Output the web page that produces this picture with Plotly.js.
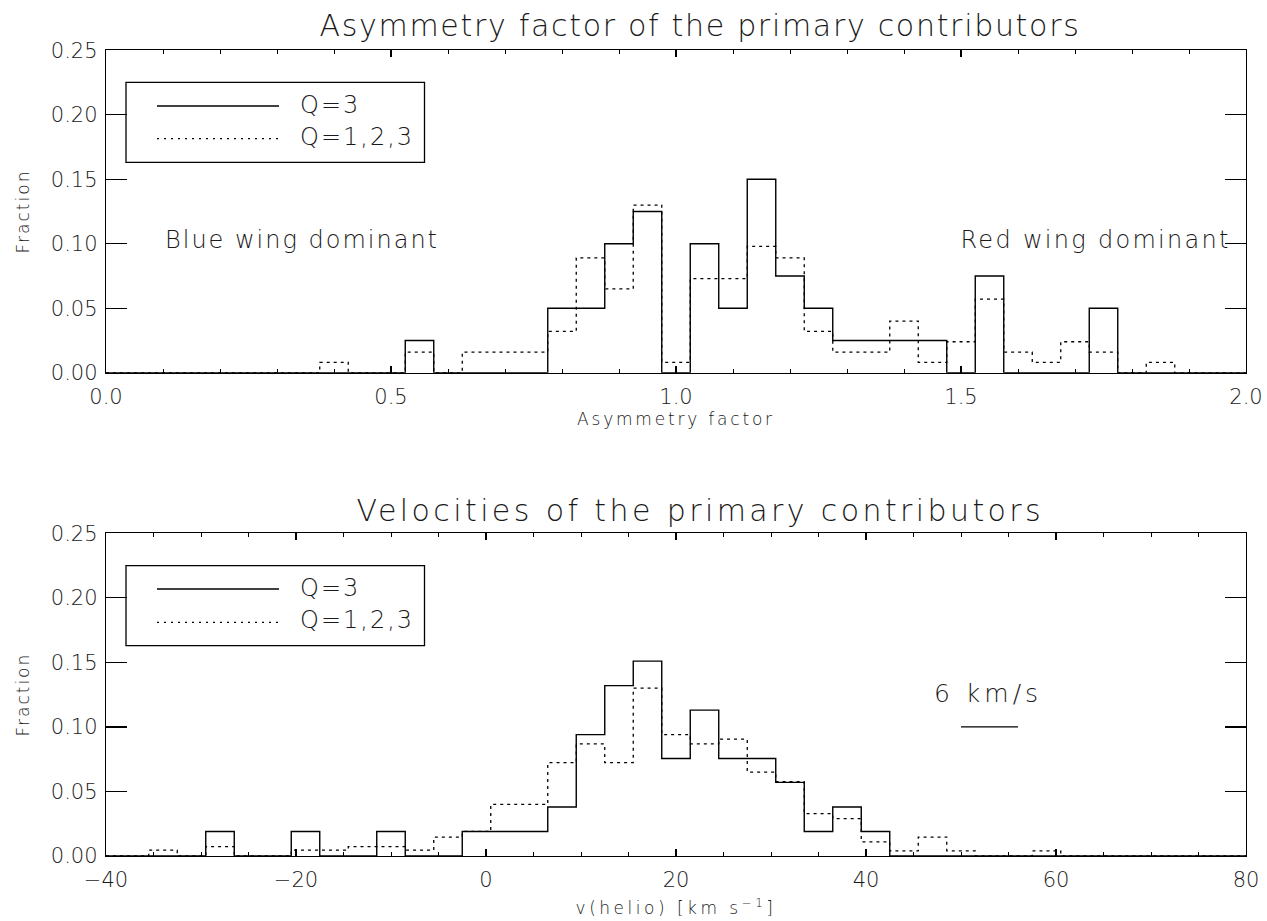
<!DOCTYPE html>
<html>
<head>
<meta charset="utf-8">
<script src="https://cdn.plot.ly/plotly-3.0.1.min.js"></script>
<style>
  html, body { margin: 0; padding: 0; background: #fff; }
  #chart { width: 1267px; height: 921px; }
  .annotation-text { letter-spacing: 2px; }
  g.annotation[data-index="0"] text { letter-spacing: 3.4px; }
  g.annotation[data-index="2"] text { letter-spacing: 2.3px; }
  g.annotation[data-index="7"] text { letter-spacing: 4px; }
  .gtitle { letter-spacing: 1.7px; }
  .g-xtitle text { letter-spacing: 2.8px; }
  .g-x2title text { letter-spacing: 3.5px; }
  .g-ytitle text, .g-y2title text { letter-spacing: 2px; }
</style>
</head>
<body>
<div id="chart"></div>
<script>
// ---------- DATA ----------
// Top panel: asymmetry factor histogram, bin width 0.05
const asymBinWidth = 0.05;
const asymBins = [0.40,0.45,0.50,0.55,0.60,0.65,0.70,0.75,0.80,0.85,0.90,0.95,1.00,1.05,1.10,1.15,1.20,1.25,1.30,1.35,1.40,1.45,1.50,1.55,1.60,1.65,1.70,1.75,1.80,1.85];
const asymQ3   = [0,0,0,0.025,0,0,0,0,0.05,0.05,0.10,0.125,0,0.10,0.05,0.15,0.075,0.05,0.025,0.025,0.025,0.025,0,0.075,0,0,0,0.05,0,0];
const asymQ123 = [0.008,0,0,0.016,0,0.016,0.016,0.016,0.032,0.089,0.065,0.130,0.008,0.073,0.073,0.098,0.089,0.032,0.016,0.016,0.040,0.008,0.024,0.057,0.016,0.008,0.024,0.016,0,0.008];

// Bottom panel: heliocentric velocity histogram, bin width 3 km/s
const velBinWidth = 3;
const velBins = [-34,-31,-28,-25,-22,-19,-16,-13,-10,-7,-4,-1,2,5,8,11,14,17,20,23,26,29,32,35,38,41,44,47,50,53,56,59];
const velQ3   = [0,0,0.019,0,0,0.019,0,0,0.019,0,0,0.019,0.019,0.019,0.038,0.094,0.132,0.151,0.0755,0.113,0.0755,0.0755,0.057,0.019,0.038,0.019,0,0,0,0,0,0];
const velQ123 = [0.0045,0,0.0072,0,0,0.0045,0.0045,0.0072,0.0072,0.0045,0.0147,0.019,0.040,0.040,0.0723,0.0868,0.0723,0.130,0.094,0.0868,0.0905,0.065,0.0576,0.0328,0.029,0.011,0.004,0.0147,0.004,0,0,0.004];

// Axis ticks / labels
const asymRange = [0, 2];
const velRange = [-40, 80];
const fracRange = [0, 0.25];
const seriesNames = ["Q=3", "Q=1,2,3"];

// Scale-bar annotation in the velocity panel (6 km/s)
const scaleBarStart = 50, scaleBarEnd = 56, scaleBarY = 0.10;
const scaleBarLabel = "6 km/s";

// ---------- helpers ----------
const W = 1267, H = 921;
const px = x => x / W;
const py = y => 1 - y / H;

function steps(centers, vals, width, lo, hi) {
  const xs = [lo], ys = [0];
  for (let i = 0; i < centers.length; i++) {
    xs.push(centers[i] - width / 2);
    ys.push(vals[i]);
  }
  xs.push(centers[centers.length - 1] + width / 2); ys.push(0);
  xs.push(hi); ys.push(0);
  return {x: xs, y: ys};
}

const FONT = "DejaVu Sans";
const INK = "#1a1a1a";
const WT = 200;
const f = (size) => ({family: FONT, size: size, color: INK, weight: WT});
const solid = {color: "#000", width: 1.4, shape: "hv"};
const dotted = {color: "#000", width: 1.3, shape: "hv", dash: "3px,4px"};

const sA = steps(asymBins, asymQ3, asymBinWidth, asymRange[0], asymRange[1]);
const dA = steps(asymBins, asymQ123, asymBinWidth, asymRange[0], asymRange[1]);
const sV = steps(velBins, velQ3, velBinWidth, velRange[0], velRange[1]);
const dV = steps(velBins, velQ123, velBinWidth, velRange[0], velRange[1]);

const traces = [
  {x: sA.x, y: sA.y, xaxis: "x", yaxis: "y", mode: "lines", line: solid, name: seriesNames[0], showlegend: false, hoverinfo: "skip"},
  {x: dA.x, y: dA.y, xaxis: "x", yaxis: "y", mode: "lines", line: dotted, name: seriesNames[1], showlegend: false, hoverinfo: "skip"},
  {x: sV.x, y: sV.y, xaxis: "x2", yaxis: "y2", mode: "lines", line: solid, name: seriesNames[0], showlegend: false, hoverinfo: "skip"},
  {x: dV.x, y: dV.y, xaxis: "x2", yaxis: "y2", mode: "lines", line: dotted, name: seriesNames[1], showlegend: false, hoverinfo: "skip"}
];

const xDom = [px(106), px(1246)];
const topDom = [py(372.7), py(50.3)];
const botDom = [py(856), py(533.3)];

const baseAxis = {
  showgrid: false, zeroline: false, showline: true, linecolor: "#000", linewidth: 1.2,
  mirror: "ticks", ticks: "inside", tickcolor: "#000", tickwidth: 1.2,
  tickfont: f(21), automargin: false, fixedrange: true
};

const layout = {
  width: W, height: H,
  margin: {l: 0, r: 0, t: 0, b: 0},
  paper_bgcolor: "#fff", plot_bgcolor: "#fff",
  showlegend: false,
  font: {family: FONT, color: INK},
  title: {text: "Asymmetry factor of the primary contributors", x: px(700), xanchor: "center", y: py(25), yanchor: "middle",
          font: f(30)},
  xaxis: Object.assign({}, baseAxis, {
    domain: xDom, anchor: "y", range: asymRange, dtick: 0.5, tick0: 0, tickformat: ".1f", ticklen: 7, ticklabelstandoff: 5,
    minor: {dtick: 0.1, ticks: "inside", ticklen: 4, tickcolor: "#000", tickwidth: 1},
    title: {text: "Asymmetry factor", font: f(17), standoff: 5}
  }),
  yaxis: Object.assign({}, baseAxis, {
    domain: topDom, anchor: "x", range: fracRange, dtick: 0.05, tick0: 0, tickformat: ".2f", ticklen: 21, ticklabelstandoff: 3,
    title: {text: "Fraction", font: f(17), standoff: 16}
  }),
  xaxis2: Object.assign({}, baseAxis, {
    domain: xDom, anchor: "y2", range: velRange, dtick: 20, tick0: 0, ticklen: 7, ticklabelstandoff: 5,
    minor: {dtick: 5, ticks: "inside", ticklen: 4, tickcolor: "#000", tickwidth: 1},
    title: {text: "v(helio) [km s<sup>−1</sup>]", font: f(17), standoff: 10}
  }),
  yaxis2: Object.assign({}, baseAxis, {
    domain: botDom, anchor: "x2", range: fracRange, dtick: 0.05, tick0: 0, tickformat: ".2f", ticklen: 21, ticklabelstandoff: 3,
    title: {text: "Fraction", font: f(17), standoff: 16}
  }),
  shapes: [
    // legend boxes
    {type: "rect", xref: "paper", yref: "paper", x0: px(126), x1: px(424.5), y0: py(82.3), y1: py(162.3), line: {color: "#000", width: 1.3}},
    {type: "rect", xref: "paper", yref: "paper", x0: px(126), x1: px(424.5), y0: py(565.7), y1: py(645.7), line: {color: "#000", width: 1.3}},
    // legend samples
    {type: "line", xref: "paper", yref: "paper", x0: px(157), x1: px(279), y0: py(106), y1: py(106), line: {color: "#000", width: 1.3}},
    {type: "line", xref: "paper", yref: "paper", x0: px(157), x1: px(279), y0: py(138.7), y1: py(138.7), line: {color: "#000", width: 1.2, dash: "2px,5px"}},
    {type: "line", xref: "paper", yref: "paper", x0: px(157), x1: px(279), y0: py(589), y1: py(589), line: {color: "#000", width: 1.3}},
    {type: "line", xref: "paper", yref: "paper", x0: px(157), x1: px(279), y0: py(622.3), y1: py(622.3), line: {color: "#000", width: 1.2, dash: "2px,5px"}},
    // 6 km/s scale bar
    {type: "line", xref: "x2", yref: "y2", x0: scaleBarStart, x1: scaleBarEnd, y0: scaleBarY, y1: scaleBarY, line: {color: "#000", width: 1.3}}
  ],
  annotations: [
    {text: "Velocities of the primary contributors", xref: "paper", yref: "paper", x: px(700), y: py(510), xanchor: "center", yanchor: "middle", showarrow: false, font: f(30)},
    {text: "Blue wing dominant", xref: "x", yref: "y", x: 0.1, y: 0.103, xanchor: "left", yanchor: "middle", showarrow: false, font: f(24)},
    {text: "Red wing dominant", xref: "x", yref: "y", x: 1.5, y: 0.103, xanchor: "left", yanchor: "middle", showarrow: false, font: f(24)},
    {text: seriesNames[0], xref: "paper", yref: "paper", x: px(298), y: py(105), xanchor: "left", yanchor: "middle", showarrow: false, font: f(24)},
    {text: seriesNames[1], xref: "paper", yref: "paper", x: px(298), y: py(137), xanchor: "left", yanchor: "middle", showarrow: false, font: f(24)},
    {text: seriesNames[0], xref: "paper", yref: "paper", x: px(298), y: py(588), xanchor: "left", yanchor: "middle", showarrow: false, font: f(24)},
    {text: seriesNames[1], xref: "paper", yref: "paper", x: px(298), y: py(620), xanchor: "left", yanchor: "middle", showarrow: false, font: f(24)},
    {text: scaleBarLabel, xref: "x2", yref: "y2", x: (scaleBarStart + scaleBarEnd) / 2 - 0.2, y: 0.126, xanchor: "center", yanchor: "middle", showarrow: false, font: f(25)}
  ]
};

Plotly.newPlot("chart", traces, layout, {staticPlot: true, displayModeBar: false});
</script>
</body>
</html>
